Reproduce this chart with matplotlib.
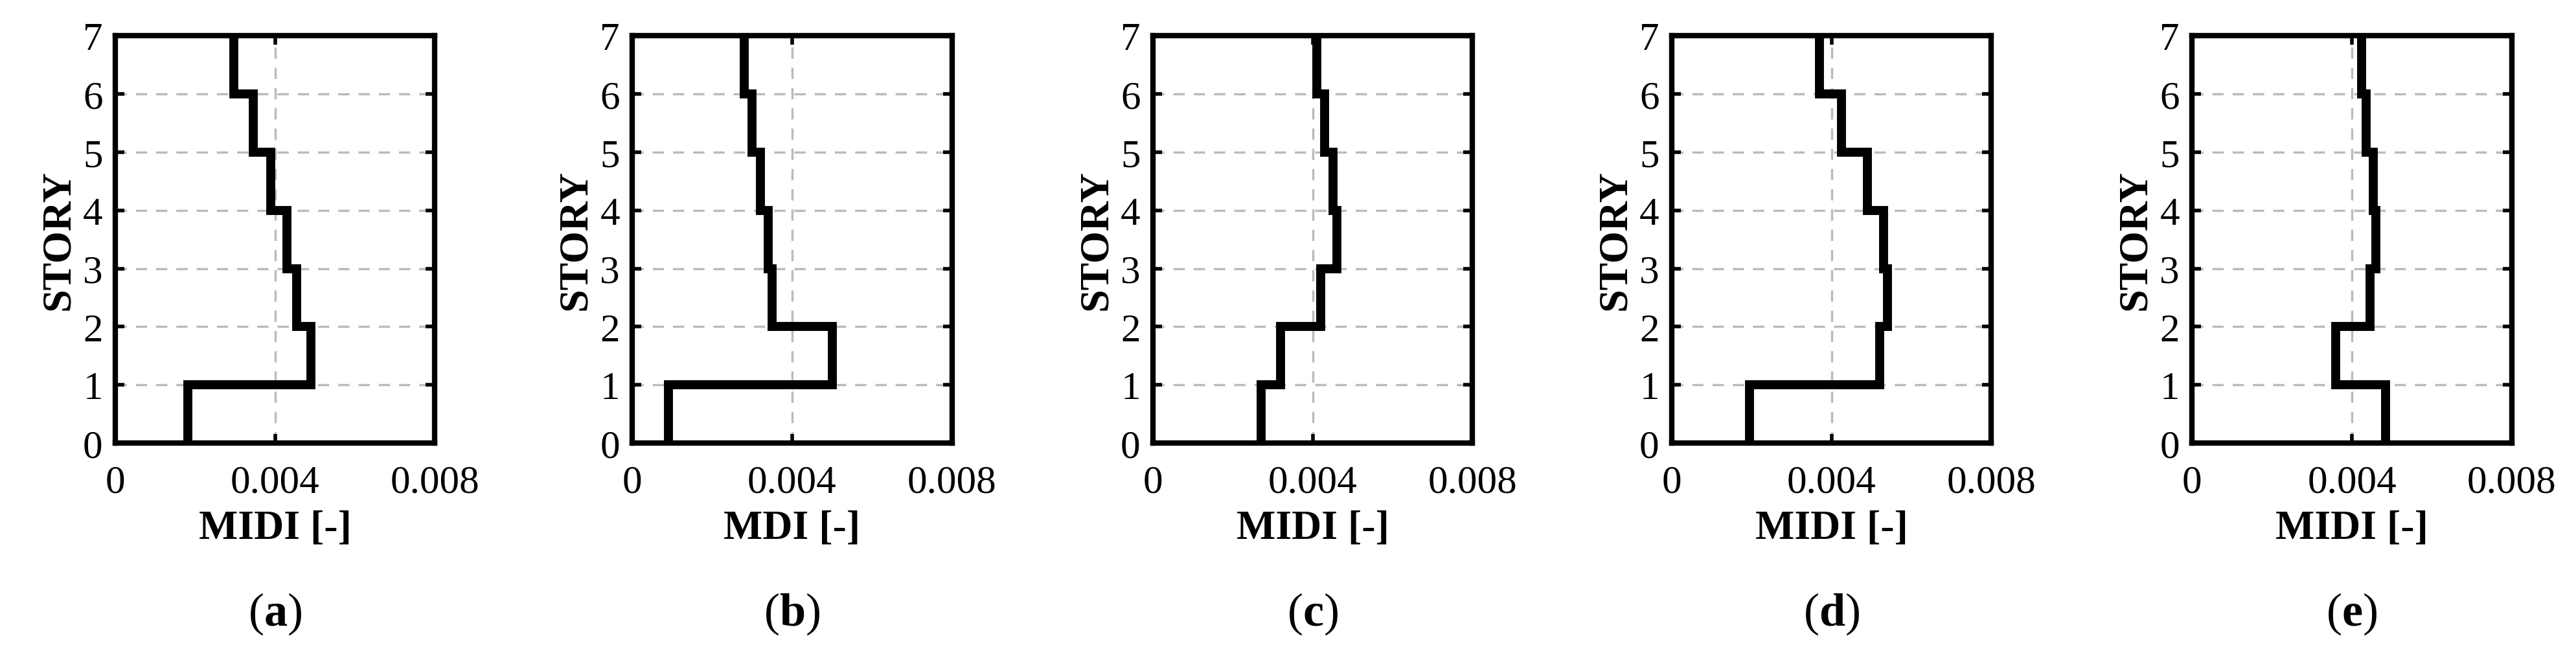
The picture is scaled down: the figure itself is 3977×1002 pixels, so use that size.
import matplotlib
matplotlib.use("Agg")
import matplotlib.pyplot as plt
import numpy as np

plt.rcParams['font.family'] = ['Liberation Serif', 'DejaVu Serif']
plt.rcParams['mathtext.fontset'] = 'custom'
plt.rcParams['mathtext.rm'] = 'Liberation Serif'
plt.rcParams['mathtext.bf'] = 'Liberation Serif:bold'

stories = [0, 1, 2, 3, 4, 5, 6, 7]
midi_a = [0.00182, 0.0049, 0.00454, 0.0043, 0.00389, 0.00345, 0.00297]
midi_b = [0.0009, 0.0050, 0.0035, 0.0034, 0.0032, 0.0030, 0.0028]
midi_c = [0.0027, 0.0032, 0.0042, 0.0046, 0.0045, 0.0043, 0.0041]
midi_d = [0.00195, 0.0052, 0.0054, 0.0053, 0.0049, 0.00425, 0.0037]
midi_e = [0.00485, 0.0036, 0.00445, 0.0046, 0.00453, 0.00436, 0.00425]
series = [midi_a, midi_b, midi_c, midi_d, midi_e]
xlabels = ['MIDI [-]', 'MDI [-]', 'MIDI [-]', 'MIDI [-]', 'MIDI [-]']
panels = ['a', 'b', 'c', 'd', 'e']
xticks = [0, 0.004, 0.008]
xticklabels = ['0', '0.004', '0.008']

fig = plt.figure(figsize=(39.77, 10.03), dpi=100)
lefts = [0.0448, 0.2455, 0.4476, 0.649, 0.851]
for left, vals, xl, p in zip(lefts, series, xlabels, panels):
    ax = fig.add_axes([left, 0.317, 0.124, 0.627])
    for y in stories[1:]:
        ax.axhline(y, color='#bbbbbb', ls=(0, (5, 4)), lw=2.5, zorder=1)
    ax.axvline(0.004, color='#bbbbbb', ls=(0, (5, 4)), lw=2.5, zorder=1)
    ax.stairs(vals, stories, orientation='horizontal', baseline=None,
              color='black', lw=10, zorder=3)
    ax.set_xlim(0, 0.008)
    ax.set_ylim(0, 7)
    ax.set_xticks(xticks)
    ax.set_xticklabels(xticklabels)
    ax.set_yticks(stories)
    ax.tick_params(direction='in', length=10, width=4, labelsize=44,
                   top=True, right=True)
    ax.tick_params(axis='x', pad=24)
    ax.tick_params(axis='y', pad=14)
    for s in ax.spines.values():
        s.set_linewidth(6)
    ax.set_xlabel(xl, fontsize=46, fontweight='bold', labelpad=10)
    ax.set_ylabel('STORY', fontsize=46, fontweight='bold', labelpad=6)
    fig.text(left + 0.062, 0.055, r'($\mathbf{' + p + r'}$)', fontsize=52,
             ha='center', va='center')

fig.savefig('out.png', dpi=100)
